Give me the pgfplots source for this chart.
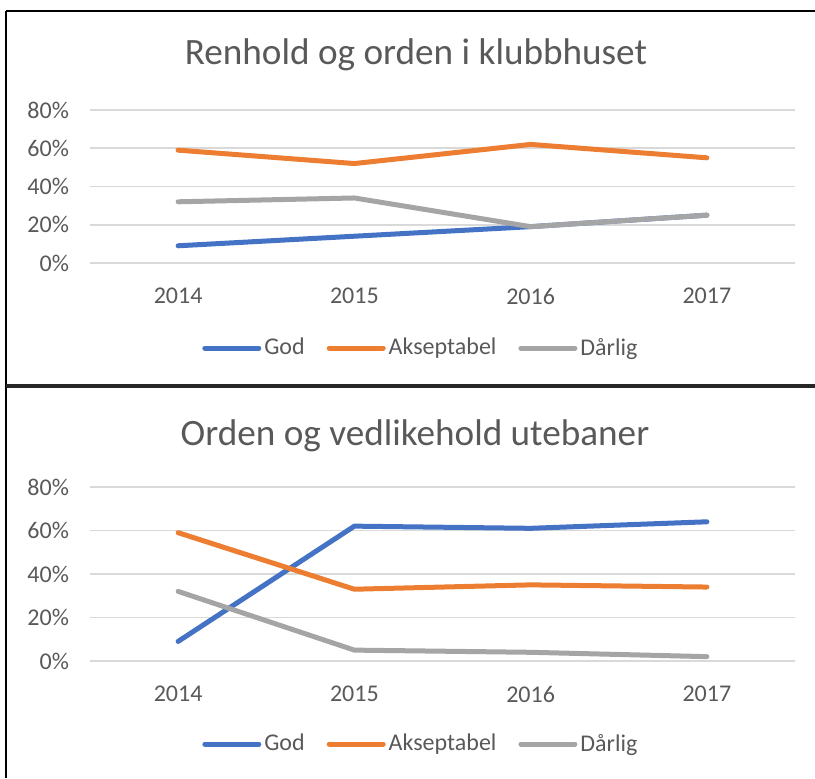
\documentclass[border=0pt]{standalone}
\usepackage{pgfplots}
\pgfplotsset{compat=1.18}
\usepackage{pgfplotstable}
\usepackage{fontspec}
\setmainfont{Carlito}
\definecolor{cblue}{HTML}{4472C4}
\definecolor{corange}{HTML}{ED7D31}
\definecolor{cgray}{HTML}{A5A5A5}
\definecolor{cgrid}{HTML}{D9D9D9}
\definecolor{ctext}{HTML}{595959}

\pgfplotstableread{
x god aksept darlig
0 9  59 32
1 14 52 34
2 19 62 19
3 25 55 25
}\dataA
\pgfplotstableread{
x god aksept darlig
0 9  59 32
1 62 33 5
2 61 35 4
3 64 34 2
}\dataB

\pgfplotsset{
  mystyle/.style={
    scale only axis,
    anchor=south west,
    width=352.5pt,
    xmin=-0.5, xmax=3.5,
    ymin=0, ymax=80,
    xtick={0,1,2,3},
    xticklabels={2014,2015,2016,2017},
    ytick={0,20,40,60,80},
    yticklabels={0\%,20\%,40\%,60\%,80\%},
    ymajorgrids,
    grid style={cgrid, line width=0.8pt},
    axis line style={draw=none},
    major tick length=0pt,
    tick label style={font=\fontsize{12}{14}\selectfont, text=ctext},
    /pgf/number format/assume math mode=true,
    yticklabel style={xshift=-7pt},
    xticklabel style={yshift=-9pt},
    clip=false,
    legend columns=3,
    legend cell align=left,
    legend style={draw=none, fill=none, anchor=center,
      font=\fontsize{12}{14}\selectfont, text=ctext,
      /tikz/every even column/.append style={column sep=9.5pt},
      nodes={inner sep=1.5pt}},
    legend image code/.code={\draw[##1, line cap=round] (0pt,0pt) -- (27pt,0pt);},
    every axis plot/.append style={line width=2.5pt, line join=round, line cap=round, no markers},
  }
}

\begin{document}
\begin{tikzpicture}
\useasboundingbox (0,0) rectangle (407.5pt,389pt);
% frames
\draw[black, line width=1pt] (3pt,383.5pt) -- (407.5pt,383.5pt);
\draw[black, line width=1pt] (3pt,383.5pt) -- (3pt,0pt);
\draw[black!85, line width=1.6pt] (3pt,196pt) -- (407.5pt,196pt);

\node[text=ctext, font=\fontsize{18.6}{22}\selectfont] at (208pt,361.5pt) {Renhold og orden i klubbhuset};
\node[text=ctext, font=\fontsize{18.6}{22}\selectfont] at (207.5pt,171pt) {Orden og vedlikehold utebaner};

\begin{axis}[mystyle, at={(45pt,257.5pt)}, height=76.5pt,
  legend style={at={(0.470,-0.556)}}]
\addplot[cblue] table[x=x,y=god] {\dataA};
\addlegendentry{God}
\addplot[corange] table[x=x,y=aksept] {\dataA};
\addlegendentry{Akseptabel}
\addplot[cgray] table[x=x,y=darlig] {\dataA};
\addlegendentry{Dårlig}
\end{axis}

\begin{axis}[mystyle, at={(45pt,58.5pt)}, height=87pt,
  legend style={at={(0.470,-0.477)}}]
\addplot[cblue] table[x=x,y=god] {\dataB};
\addlegendentry{God}
\addplot[corange] table[x=x,y=aksept] {\dataB};
\addlegendentry{Akseptabel}
\addplot[cgray] table[x=x,y=darlig] {\dataB};
\addlegendentry{Dårlig}
\end{axis}
\end{tikzpicture}
\end{document}
